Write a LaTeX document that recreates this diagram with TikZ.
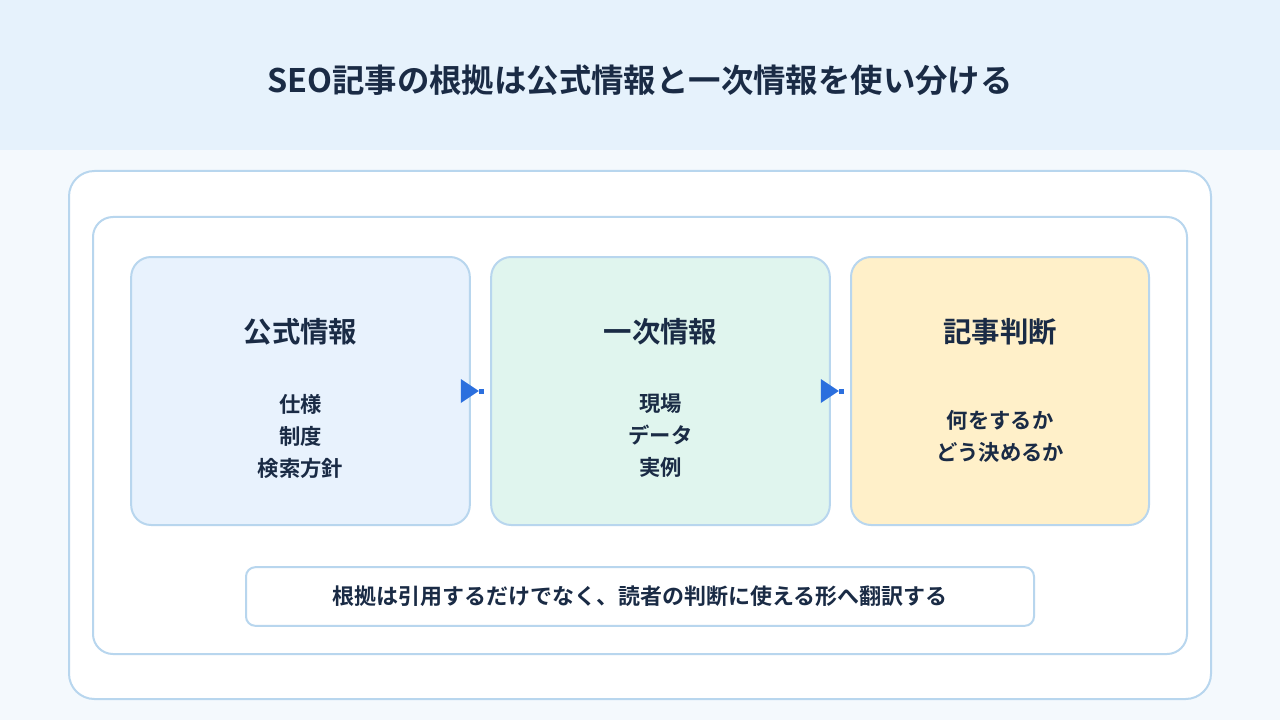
\documentclass[tikz,border=0pt]{standalone}
\usepackage{fontspec}
\setmainfont{Noto Sans CJK JP}[BoldFont={* Bold}]
\usetikzlibrary{positioning,calc}

\definecolor{bandblue}{HTML}{E6F2FC}
\definecolor{pageblue}{HTML}{F4F9FD}
\definecolor{edgeblue}{HTML}{B8D6EE}
\definecolor{offblue}{HTML}{E8F2FD}
\definecolor{primgreen}{HTML}{E0F5EE}
\definecolor{judgeyellow}{HTML}{FFF0C9}
\definecolor{inkblue}{HTML}{1A2B45}
\definecolor{flowblue}{HTML}{2B6FDE}

\tikzset{
  frame/.style={draw=edgeblue, line width=1.5pt, fill=white},
  card/.style={draw=edgeblue, line width=1.5pt, rounded corners=15pt,
    minimum height=201pt, inner sep=0pt},
  cardtitle/.style={text=inkblue, font=\fontsize{21.3pt}{25pt}\selectfont\bfseries},
  carditems/.style={text=inkblue, align=center,
    font=\fontsize{16pt}{24pt}\selectfont\bfseries},
  flowtip/.style={fill=flowblue}
}

\begin{document}
\begin{tikzpicture}[x=0.75pt,y=-0.75pt]

% background and title band
\useasboundingbox (0,0) rectangle (1280,720);
\fill[pageblue] (0,0) rectangle (1280,720);
\fill[bandblue] (0,0) rectangle (1280,150);
\node[text=inkblue, font=\fontsize{24.3pt}{29pt}\selectfont\bfseries] (title) at (640,80)
  {SEO記事の根拠は公式情報と一次情報を使い分ける};

% outer and inner frames
\draw[frame, rounded corners=19pt] (69,171) rectangle (1211,699);
\draw[frame, rounded corners=15pt] (93,217) rectangle (1187,654);

% three cards
\node[card, fill=offblue, minimum width=254pt] (off) at (300.5,391) {};
\node[card, fill=primgreen, minimum width=254pt] (prim) at (660.5,391) {};
\node[card, fill=judgeyellow, minimum width=223.5pt] (judge) at (1000,391) {};

\node[cardtitle] (offT) at (300.5,332) {公式情報};
\node[carditems] (offL) at (300.5,436) {仕様\\制度\\検索方針};

\node[cardtitle] (primT) at (660.5,332) {一次情報};
\node[carditems] (primL) at (660.5,436) {現場\\データ\\実例};

\node[cardtitle] (judgeT) at (1000,332) {記事判断};
\node[carditems] (judgeL) at (1000,436) {何をするか\\どう決めるか};

% flow marks between the cards
\foreach \from in {off,prim} {
  \fill[flowtip] ($(\from.east)+(8,0)$) -- ++(-18,-12) -- ++(0,24) -- cycle;
  \fill[flowtip] ($(\from.east)+(8,-2.5)$) rectangle ++(5,5);
}

% closing note
\node[draw=edgeblue, line width=1.5pt, fill=white, rounded corners=7pt,
  minimum width=591pt, minimum height=44pt, text=inkblue,
  font=\fontsize{16.5pt}{20pt}\selectfont\bfseries] (note) at (640,596.5)
  {根拠は引用するだけでなく、読者の判断に使える形へ翻訳する};

\end{tikzpicture}
\end{document}
